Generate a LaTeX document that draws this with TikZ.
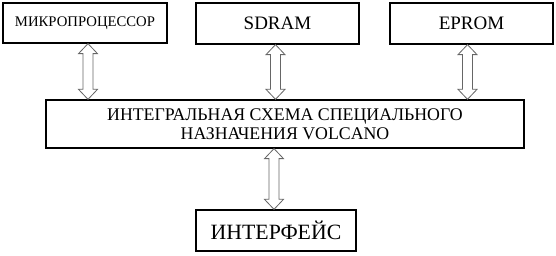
\documentclass[tikz,border=0pt]{standalone}
\usepackage{fontspec}
\setmainfont{Liberation Serif}
\usetikzlibrary{calc}

\begin{document}
\begin{tikzpicture}[
  x=1pt, y=1pt,
  block/.style={draw=black, line width=1.3pt, inner sep=0pt, align=center},
  bus/.style={
    draw=black!60, line width=0.8pt, fill=white,
    to path={let \p1=(\tikztostart), \p2=(\tikztotarget) in
      -- (\x1+9.5pt,\y1-10pt) -- (\x1+5pt,\y1-10pt)
      -- (\x1+5pt,\y2+10pt) -- (\x1+9.5pt,\y2+10pt)
      -- (\x1,\y2)
      -- (\x1-9.5pt,\y2+10pt) -- (\x1-5pt,\y2+10pt)
      -- (\x1-5pt,\y1-10pt) -- (\x1-9.5pt,\y1-10pt) -- cycle}
  }
]
  \useasboundingbox (0,0) rectangle (556,256);

  % top row
  \node[block, minimum width=164pt, minimum height=40pt,
    font=\fontsize{14.7}{16}\selectfont] (cpu) at (85,233) {МИКРОПРОЦЕССОР};
  \node[block, minimum width=163pt, minimum height=41pt,
    font=\fontsize{19}{22}\selectfont] (sdram) at (277.5,232.5) {SDRAM};
  \node[block, minimum width=163pt, minimum height=41pt,
    font=\fontsize{19}{22}\selectfont] (eprom) at (471.5,232.5) {EPROM};

  % chip
  \node[block, minimum width=478pt, minimum height=48pt,
    font=\fontsize{17.8}{19.5}\selectfont] (asic) at (285,132)
    {ИНТЕГРАЛЬНАЯ СХЕМА СПЕЦИАЛЬНОГО\\НАЗНАЧЕНИЯ VOLCANO};

  % bottom
  \node[block, minimum width=160pt, minimum height=41pt,
    font=\fontsize{21.8}{24}\selectfont] (iface) at (276,25.5) {ИНТЕРФЕЙС};

  % buses
  \draw[bus] ([xshift=3pt]cpu.south) to (asic.north);
  \draw[bus] ([xshift=-2pt]sdram.south) to (asic.north);
  \draw[bus] ([xshift=-4pt]eprom.south) to (asic.north);
  \draw[bus] ([xshift=-2pt]asic.south -| iface.north) to (iface.north);
\end{tikzpicture}
\end{document}
